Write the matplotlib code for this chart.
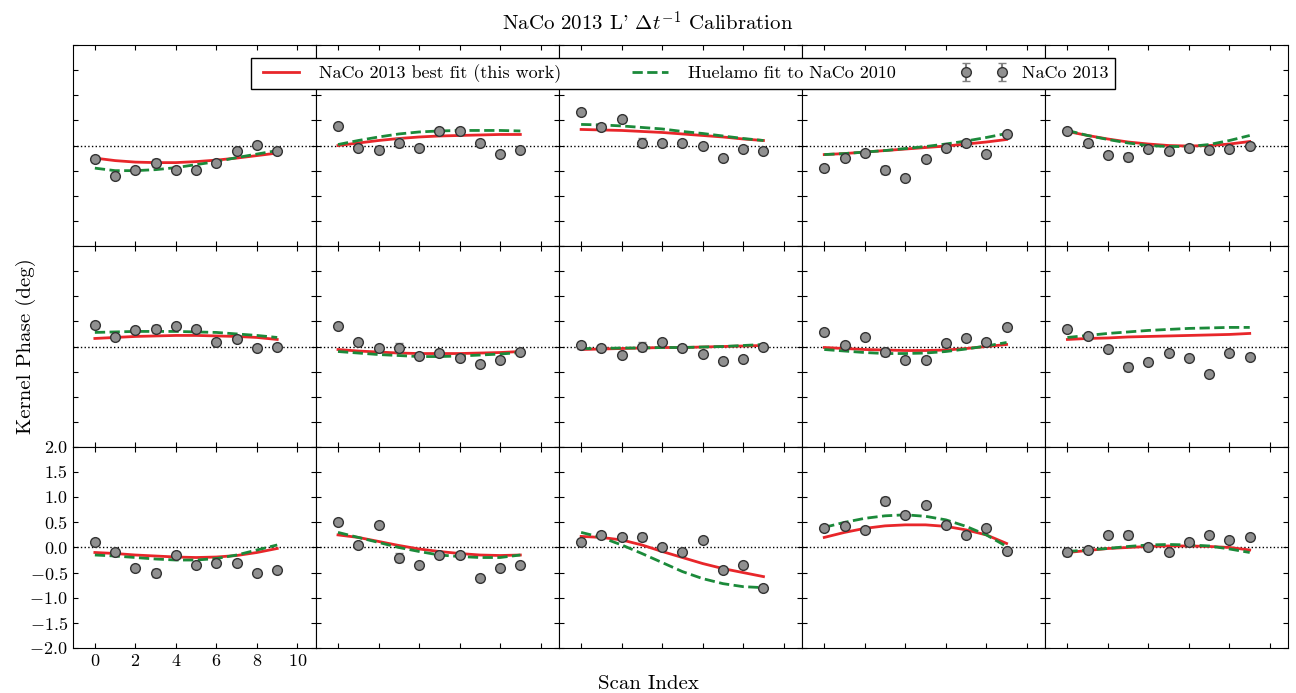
import matplotlib
matplotlib.use('Agg')
import matplotlib.pyplot as plt
import numpy as np

matplotlib.rcParams.update({
    'font.family': 'serif',
    'font.serif': ['cmr10', 'DejaVu Serif'],
    'mathtext.fontset': 'cm',
    'axes.formatter.use_mathtext': True,
    'font.size': 13,
    'xtick.direction': 'in',
    'ytick.direction': 'in',
    'xtick.top': True,
    'ytick.right': True,
})

scan = np.arange(10)

# measured kernel phases, one row per panel (row-major, 3 x 5)
kp_data = [
    [-0.26, -0.6, -0.48, -0.34, -0.48, -0.48, -0.34, -0.1, 0.02, -0.1],
    [0.38, -0.04, -0.08, 0.06, -0.04, 0.28, 0.28, 0.06, -0.16, -0.08],
    [0.66, 0.36, 0.52, 0.06, 0.06, 0.06, 0.0, -0.24, -0.06, -0.1],
    [-0.44, -0.24, -0.14, -0.48, -0.64, -0.26, -0.04, 0.06, -0.16, 0.22],
    [0.28, 0.06, -0.18, -0.22, -0.06, -0.1, -0.04, -0.08, -0.06, 0.0],
    [0.42, 0.18, 0.32, 0.34, 0.4, 0.34, 0.08, 0.14, -0.02, 0.0],
    [0.4, 0.08, -0.02, -0.02, -0.18, -0.12, -0.22, -0.34, -0.26, -0.1],
    [0.02, -0.02, -0.16, 0.0, 0.08, -0.02, -0.14, -0.28, -0.24, 0.0],
    [0.28, 0.02, 0.18, -0.1, -0.26, -0.26, 0.06, 0.16, 0.08, 0.38],
    [0.34, 0.2, -0.04, -0.4, -0.3, -0.12, -0.22, -0.54, -0.12, -0.2],
    [0.1, -0.1, -0.4, -0.5, -0.15, -0.35, -0.3, -0.3, -0.5, -0.45],
    [0.5, 0.05, 0.45, -0.2, -0.35, -0.15, -0.15, -0.6, -0.4, -0.35],
    [0.1, 0.25, 0.2, 0.2, 0.0, -0.1, 0.15, -0.45, -0.35, -0.8],
    [0.38, 0.42, 0.35, 0.92, 0.65, 0.85, 0.45, 0.25, 0.38, -0.08],
    [-0.1, -0.05, 0.25, 0.25, 0.0, -0.1, 0.1, 0.25, 0.15, 0.2],
]
kp_err = [0.06, 0.05, 0.05, 0.08, 0.05, 0.05, 0.05, 0.06, 0.05, 0.05]

# best fit (this work)
fit_red = [
    [-0.25, -0.3, -0.33, -0.34, -0.34, -0.32, -0.29, -0.25, -0.2, -0.15],
    [0.0, 0.05, 0.1, 0.14, 0.17, 0.19, 0.2, 0.21, 0.22, 0.22],
    [0.32, 0.31, 0.3, 0.28, 0.26, 0.23, 0.2, 0.17, 0.13, 0.1],
    [-0.18, -0.16, -0.13, -0.1, -0.07, -0.04, -0.01, 0.03, 0.07, 0.12],
    [0.28, 0.2, 0.13, 0.07, 0.03, 0.0, -0.01, 0.0, 0.03, 0.08],
    [0.16, 0.18, 0.2, 0.21, 0.22, 0.22, 0.21, 0.2, 0.18, 0.14],
    [-0.06, -0.09, -0.11, -0.13, -0.14, -0.14, -0.14, -0.13, -0.12, -0.1],
    [-0.06, -0.05, -0.04, -0.03, -0.02, -0.02, -0.01, 0.0, 0.01, 0.02],
    [-0.02, -0.04, -0.06, -0.07, -0.08, -0.08, -0.07, -0.04, 0.0, 0.04],
    [0.14, 0.16, 0.17, 0.19, 0.2, 0.21, 0.22, 0.23, 0.24, 0.26],
    [-0.1, -0.12, -0.15, -0.17, -0.19, -0.2, -0.19, -0.16, -0.1, -0.02],
    [0.25, 0.2, 0.12, 0.04, -0.03, -0.08, -0.12, -0.15, -0.16, -0.15],
    [0.22, 0.2, 0.15, 0.05, -0.08, -0.2, -0.32, -0.42, -0.5, -0.58],
    [0.2, 0.3, 0.38, 0.43, 0.45, 0.45, 0.42, 0.35, 0.25, 0.08],
    [-0.1, -0.06, -0.02, 0.0, 0.02, 0.03, 0.03, 0.02, 0.0, -0.05],
]

# Huelamo fit to NaCo 2010
fit_green = [
    [-0.45, -0.5, -0.5, -0.48, -0.44, -0.38, -0.32, -0.24, -0.17, -0.1],
    [0.02, 0.1, 0.17, 0.23, 0.27, 0.29, 0.3, 0.3, 0.3, 0.29],
    [0.42, 0.41, 0.39, 0.36, 0.33, 0.28, 0.24, 0.19, 0.14, 0.1],
    [-0.18, -0.16, -0.13, -0.1, -0.06, -0.02, 0.03, 0.09, 0.16, 0.24],
    [0.3, 0.2, 0.12, 0.05, 0.0, -0.02, -0.02, 0.02, 0.1, 0.2],
    [0.28, 0.29, 0.3, 0.3, 0.3, 0.29, 0.28, 0.25, 0.22, 0.18],
    [-0.1, -0.13, -0.16, -0.18, -0.2, -0.2, -0.19, -0.17, -0.15, -0.12],
    [-0.04, -0.04, -0.03, -0.03, -0.02, -0.02, -0.01, 0.0, 0.02, 0.04],
    [-0.06, -0.09, -0.12, -0.14, -0.14, -0.13, -0.1, -0.05, 0.01, 0.08],
    [0.18, 0.22, 0.26, 0.29, 0.32, 0.34, 0.36, 0.37, 0.38, 0.38],
    [-0.15, -0.17, -0.2, -0.23, -0.25, -0.25, -0.22, -0.15, -0.05, 0.05],
    [0.3, 0.2, 0.1, 0.0, -0.08, -0.15, -0.18, -0.2, -0.2, -0.15],
    [0.3, 0.2, 0.05, -0.12, -0.3, -0.48, -0.62, -0.72, -0.78, -0.8],
    [0.4, 0.5, 0.58, 0.63, 0.65, 0.62, 0.55, 0.42, 0.25, 0.02],
    [-0.08, -0.05, -0.02, 0.02, 0.05, 0.06, 0.05, 0.03, -0.03, -0.1],
]

yticks = [-2.0, -1.5, -1.0, -0.5, 0.0, 0.5, 1.0, 1.5, 2.0]

fig, axes = plt.subplots(3, 5, figsize=(12.96, 6.93), dpi=100, sharex=True, sharey=True)
fig.subplots_adjust(left=0.056, right=0.994, top=0.935, bottom=0.065, wspace=0, hspace=0)

for k, ax in enumerate(axes.flat):
    ax.axhline(0, color='black', ls=':', lw=1)
    ax.plot(scan, fit_red[k], color='#e8262a', lw=2, label='NaCo 2013 best fit (this work)')
    ax.plot(scan, fit_green[k], color='#1b8a3a', lw=2, ls='--', label='Huelamo fit to NaCo 2010')
    ax.errorbar(scan, kp_data[k], yerr=kp_err, fmt='o', color='gray', mfc='#909090',
                mec='#333333', ms=7, ecolor='gray', capsize=3, label='NaCo 2013')
    ax.set_xlim(-1.1, 10.9)
    ax.set_ylim(-2, 2)
    ax.set_xticks([0, 2, 4, 6, 8, 10])
    ax.set_yticks(yticks)
    r, c = divmod(k, 5)
    if not (r == 2 and c == 0):
        ax.tick_params(labelbottom=False, labelleft=False)

axes[2, 0].set_yticklabels([r'$%.1f$' % v if v < 0 else '%.1f' % v for v in yticks])

handles, labels = axes[0, 0].get_legend_handles_labels()
leg = fig.legend(handles, labels, loc='center', bbox_to_anchor=(0.527, 0.894), ncol=3,
                 numpoints=2, fancybox=False, edgecolor='black', fontsize=13, framealpha=1,
                 columnspacing=3.6, handlelength=2.6, borderpad=0.35)
leg.set_zorder(10)

fig.suptitle(r"NaCo 2013 L' $\Delta t^{-1}$ Calibration", y=0.985, fontsize=15)
fig.supylabel('Kernel Phase (deg)', x=0.012, fontsize=15)
fig.supxlabel('Scan Index', y=0.0, fontsize=15)

fig.savefig('out.png')
